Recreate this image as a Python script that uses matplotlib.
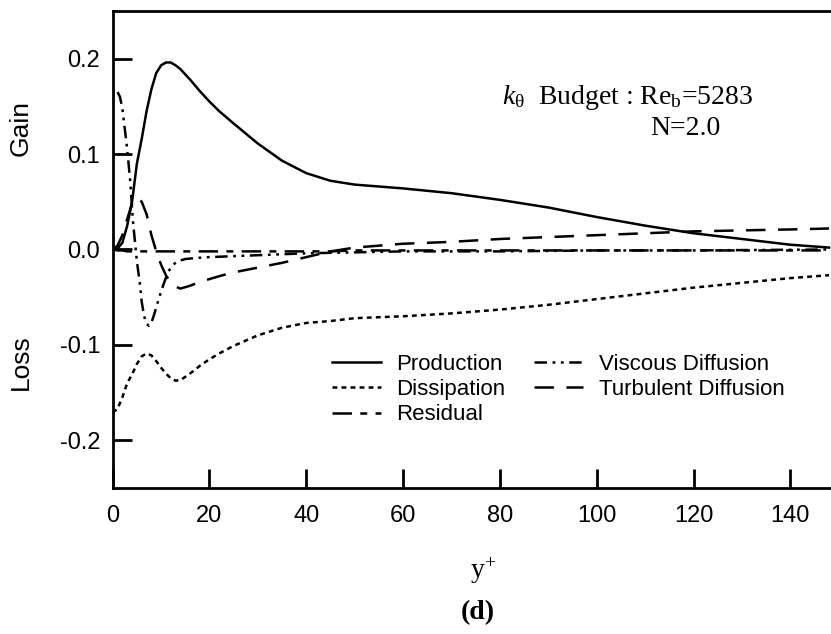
import matplotlib
matplotlib.use("Agg")
import matplotlib.pyplot as plt

plt.rcParams["font.family"] = ["Liberation Sans", "DejaVu Sans"]
plt.rcParams["mathtext.fontset"] = "custom"
plt.rcParams["mathtext.rm"] = "Liberation Serif"
plt.rcParams["mathtext.it"] = "Liberation Serif:italic"
plt.rcParams["mathtext.bf"] = "Liberation Serif:bold"
plt.rcParams["lines.scale_dashes"] = False

# wall distance y+ and the budget terms of k_theta
y_plus = [0, 1, 2, 3, 4, 5, 6, 7, 8, 9, 10, 11, 12, 13, 14, 16, 18, 20, 22, 25,
          30, 35, 40, 45, 50, 55, 60, 70, 80, 90, 100, 110, 120, 130, 140, 148]
production = [0.0, 0.001, 0.007, 0.025, 0.05, 0.09, 0.116, 0.145, 0.168, 0.185,
              0.193, 0.196, 0.196, 0.193, 0.189, 0.178, 0.166, 0.155, 0.145, 0.132,
              0.111, 0.093, 0.08, 0.072, 0.068, 0.066, 0.064, 0.059, 0.052, 0.044,
              0.034, 0.025, 0.017, 0.011, 0.005, 0.002]
dissipation = [-0.171, -0.167, -0.155, -0.14, -0.131, -0.12, -0.112, -0.109, -0.111,
               -0.117, -0.124, -0.13, -0.135, -0.1375, -0.137, -0.13, -0.122, -0.115,
               -0.109, -0.101, -0.09, -0.082, -0.077, -0.075, -0.072, -0.071, -0.07,
               -0.067, -0.063, -0.058, -0.052, -0.046, -0.04, -0.035, -0.03, -0.027]
turbulent = [0.0, 0.004, 0.015, 0.032, 0.048, 0.055, 0.05, 0.037, 0.015, -0.002,
             -0.016, -0.027, -0.035, -0.039, -0.041, -0.038, -0.034, -0.031, -0.028,
             -0.024, -0.019, -0.014, -0.008, -0.002, 0.002, 0.004, 0.006, 0.008,
             0.011, 0.013, 0.015, 0.017, 0.019, 0.02, 0.021, 0.022]
residual = [0.0, -0.001, -0.001, -0.002, -0.002, -0.002, -0.002, -0.002, -0.002,
            -0.002, -0.002, -0.002, -0.002, -0.002, -0.002, -0.002, -0.002, -0.002,
            -0.002, -0.002, -0.002, -0.002, -0.002, -0.002, -0.001, -0.001, -0.001,
            -0.001, -0.001, -0.001, -0.001, -0.001, -0.001, -0.001, -0.001, -0.001]

visc_y_plus = [1, 1.5, 2, 3, 3.6, 4.2, 5, 5.6, 6, 6.5, 7, 7.5, 8, 8.7, 9.5, 10.4,
               11.4, 12.3, 13.3, 15, 17, 20, 25, 30, 40, 50, 60, 80, 100, 120, 148]
viscous = [0.165, 0.16, 0.148, 0.105, 0.073, 0.029, -0.0125, -0.035, -0.055, -0.07,
           -0.078, -0.08, -0.077, -0.066, -0.052, -0.038, -0.024, -0.017, -0.0125,
           -0.01, -0.009, -0.008, -0.007, -0.006, -0.004, -0.003, -0.002, -0.002,
           -0.001, -0.001, 0.0]

x_ticks = [0, 20, 40, 60, 80, 100, 120, 140]
y_ticks = [-0.2, -0.1, 0.0, 0.1, 0.2]
y_tick_labels = ["-0.2", "-0.1", "0.0", "0.1", "0.2"]

fig = plt.figure(figsize=(8.31, 6.34), dpi=100)
ax = fig.add_axes([0.1356, 0.2303, 0.8644, 0.7524])

lw = 1.8
ax.plot(y_plus, production, color="black", lw=lw, ls="-", label="Production")
ax.plot(y_plus, dissipation, color="black", lw=lw, ls=(0, (3.5, 3)), label="Dissipation")
ax.plot(y_plus, residual, color="black", lw=lw, ls=(0, (14, 6, 5, 6)), label="Residual")
ax.plot(visc_y_plus, viscous, color="black", lw=lw, ls=(0, (9, 4, 2, 4, 2, 4)),
        label="Viscous Diffusion")
ax.plot(y_plus, turbulent, color="black", lw=lw, ls=(0, (14, 9)),
        label="Turbulent Diffusion")

ax.set_xlim(0, 148.4)
ax.set_ylim(-0.25, 0.25)
ax.set_xticks(x_ticks)
ax.set_yticks(y_ticks)
ax.set_yticklabels(y_tick_labels)
ax.tick_params(axis="both", direction="in", length=13.5, width=2, labelsize=17)
ax.tick_params(axis="x", pad=12)
ax.tick_params(axis="y", pad=9)
ax.tick_params(top=False, right=False)
for side in ["left", "bottom", "top"]:
    ax.spines[side].set_linewidth(2)
ax.spines["right"].set_visible(False)

ax.legend(loc="upper left", bbox_to_anchor=(332 / 831, 1 - 354 / 634),
          bbox_transform=fig.transFigure, ncol=2, frameon=False, fontsize=16,
          handlelength=2.2, handletextpad=0.7, columnspacing=1.3,
          labelspacing=0.19, borderpad=0, borderaxespad=0)

ax.text(80.4, 0.153, r"$k_{\mathrm{\theta}}$  Budget : Re$_{\mathrm{b}}$=5283",
        fontsize=20, family="Liberation Serif", va="baseline", ha="left")
ax.text(111, 0.12, "N=2.0", fontsize=20, family="Liberation Serif",
        va="baseline", ha="left")

fig.text(21 / 831, 1 - 128 / 634, "Gain", rotation=90, fontsize=19,
         ha="center", va="center")
fig.text(21 / 831, 1 - 362 / 634, "Loss", rotation=90, fontsize=19,
         ha="center", va="center")

fig.text(483 / 831, 1 - 578 / 634, r"y$^{+}$", fontsize=20,
         family="Liberation Serif", ha="center", va="baseline")
fig.text(478 / 831, 1 - 613 / 634, "(d)", fontsize=20, fontweight="bold",
         family="Liberation Serif", ha="center", va="center")

fig.savefig("out.png", dpi=100)
